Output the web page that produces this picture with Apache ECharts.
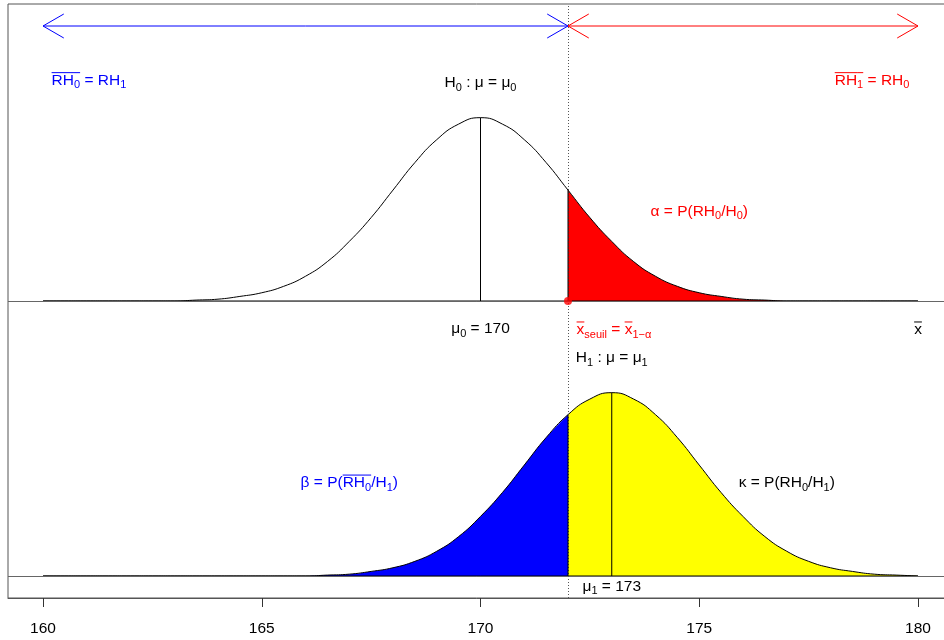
<!DOCTYPE html>
<html><head><meta charset="utf-8">
<script src="https://cdn.jsdelivr.net/npm/echarts@6/dist/echarts.min.js"></script>
<style>html,body{margin:0;padding:0;background:#fff}#c{width:944px;height:640px}</style>
</head><body><div id="c"></div><script>
// ---- data ----
const xs = [160,160.5,161,161.5,162,162.5,163,163.5,164,164.5,165,165.5,166,166.5,167,167.5,168,168.5,169,169.5,170,170.5,171,171.5,172,172.5,173,173.5,174,174.5,175,175.5,176,176.5,177,177.5,178,178.5,179,179.5,180];
// density under H0 (mean 170)
const h0Density = [0,0,0,0,0,0,0,0.001,0.002,0.005,0.009,0.016,0.027,0.043,0.065,0.091,0.121,0.151,0.176,0.193,0.2,0.193,0.176,0.151,0.121,0.091,0.065,0.043,0.027,0.016,0.009,0.005,0.002,0.001,0,0,0,0,0,0,0];
// density under H1 (mean 173)
const h1Density = [0,0,0,0,0,0,0,0,0,0,0,0,0,0.001,0.002,0.005,0.009,0.016,0.027,0.043,0.065,0.091,0.121,0.151,0.176,0.193,0.2,0.193,0.176,0.151,0.121,0.091,0.065,0.043,0.027,0.016,0.009,0.005,0.002,0.001,0];
const tickValues = [160,165,170,175,180];
const means = [170,173];
const thresholds = [172];
const arrowLevels = [0.6];

// ---- layout / style ----
const upperOffset = 0.3;
const BLUE = '#0000ff', RED = '#ff0000', YELLOW = '#ffff00', BLACK = '#000000';
const FONT_FAMILY = "'Liberation Sans', Arial, Helvetica, sans-serif";
const MAIN_FONT = '15.5px ' + FONT_FAMILY;
const SUB_FONT = '11px ' + FONT_FAMILY;
const SUB_SHIFT = 5;
const OVER_H = 7.6;
const TEXT_DY = 2;

const annotations = [
  {x:161.05, y:0.543, color:BLUE, runs:[['RH','n',1],['0','s',1],[' = RH','n'],['1','s']]},
  {x:170, y:0.54, color:BLACK, runs:[['H','n'],['0','s'],[' : \u03bc = \u03bc','n'],['0','s']]},
  {x:178.95, y:0.543, color:RED, runs:[['RH','n',1],['1','s',1],[' = RH','n'],['0','s']]},
  {x:175, y:0.4, color:RED, runs:[['\u03b1 = P(RH','n'],['0','s'],['/H','n'],['0','s'],[')','n']]},
  {x:170, y:0.272, color:BLACK, runs:[['\u03bc','n'],['0','s'],[' = 170','n']]},
  {x:173.05, y:0.271, color:RED, runs:[['x','n',1],['seuil','s'],[' = ','n'],['x','n',1],['1\u2212\u03b1','s']]},
  {x:180, y:0.271, color:BLACK, runs:[['x','n',1]]},
  {x:173, y:0.24, color:BLACK, runs:[['H','n'],['1','s'],[' : \u03bc = \u03bc','n'],['1','s']]},
  {x:167, y:0.104, color:BLUE, runs:[['\u03b2 = P(','n'],['RH','n',1],['0','s',1],['/H','n'],['1','s'],[')','n']]},
  {x:177, y:0.104, color:BLACK, runs:[['\u03ba = P(RH','n'],['0','s'],['/H','n'],['1','s'],[')','n']]},
  {x:173, y:-0.009, color:BLACK, runs:[['\u03bc','n'],['1','s'],[' = 173','n']]}
];

function pairs(from, to, arr, offset) {
  const out = [];
  xs.forEach((x, i) => { if (x >= from && x <= to) out.push([x, arr[i] + offset]); });
  return out;
}
function valueAt(arr, x) { return arr[xs.indexOf(x)]; }

const measureCtx = document.createElement('canvas').getContext('2d');
function measure(text, font) { measureCtx.font = font; return measureCtx.measureText(text).width; }

const xMin = xs[0], xMax = xs[xs.length - 1];
const thr = thresholds[0];

const segments = [
  [means[0], upperOffset, upperOffset + valueAt(h0Density, means[0])],
  [thr, upperOffset, upperOffset + valueAt(h0Density, thr)],
  [means[1], 0, valueAt(h1Density, means[1])],
  [thr, 0, valueAt(h1Density, thr)]
];
const arrows = [[xMin, thr, arrowLevels[0], 0], [thr, xMax, arrowLevels[0], 1]];
const arrowColors = [BLUE, RED];

const lineBase = {type:'line', symbol:'none', smooth:0.5, silent:true, animation:false};

const option = {
  animation: false,
  backgroundColor: '#ffffff',
  grid: {left: 8, top: 4, width: 945, height: 594, show: true, borderColor: '#555', borderWidth: 1,
         containLabel: false, outerBoundsMode: 'none'},
  xAxis: {
    type: 'value', min: 159.2, max: 180.8,
    axisLine: {show: true, onZero: false, lineStyle: {color: '#555', width: 1}},
    axisTick: {show: true, inside: false, length: 9, customValues: tickValues, lineStyle: {color: '#333'}},
    axisLabel: {show: true, customValues: tickValues, margin: 23, color: '#000', fontSize: 15.5,
                fontFamily: FONT_FAMILY, formatter: v => String(v)},
    splitLine: {show: false}
  },
  yAxis: {
    type: 'value', min: -0.024, max: 0.624, show: false,
    axisLine: {show: false}, axisTick: {show: false}, axisLabel: {show: false}, splitLine: {show: false}
  },
  series: [
    Object.assign({}, lineBase, {name:'alpha', z:2, data: pairs(thr, xMax, h0Density, upperOffset),
      lineStyle:{width:0, opacity:0}, areaStyle:{color:RED, opacity:1, origin: upperOffset}}),
    Object.assign({}, lineBase, {name:'beta', z:2, data: pairs(xMin, thr, h1Density, 0),
      lineStyle:{width:0, opacity:0}, areaStyle:{color:BLUE, opacity:1, origin: 0}}),
    Object.assign({}, lineBase, {name:'kappa', z:2, data: pairs(thr, xMax, h1Density, 0),
      lineStyle:{width:0, opacity:0}, areaStyle:{color:YELLOW, opacity:1, origin: 0}}),
    {type:'line', symbol:'none', silent:true, z:3, data: [[xMin, upperOffset],[xMax, upperOffset]],
      lineStyle:{color:BLACK, width:1},
      markLine: {silent:true, symbol:'none', label:{show:false}, animation:false,
        data: [
          {yAxis: 0, lineStyle:{color:'#666', width:1, type:'solid'}},
          {yAxis: upperOffset, lineStyle:{color:'#666', width:1, type:'solid'}},
          {xAxis: thr, lineStyle:{color:'#555', width:1, type:[1,2]}}
        ]}},
    {type:'line', symbol:'none', silent:true, z:3, data: [[xMin, 0],[xMax, 0]], lineStyle:{color:BLACK, width:1}},
    Object.assign({}, lineBase, {name:'H0', z:4, data: pairs(xMin, xMax, h0Density, upperOffset),
      lineStyle:{color:BLACK, width:1}}),
    Object.assign({}, lineBase, {name:'H1', z:4, data: pairs(xMin, xMax, h1Density, 0),
      lineStyle:{color:BLACK, width:1}}),
    {type:'custom', z:5, silent:true, data: segments,
      renderItem: (params, api) => {
        const p1 = api.coord([api.value(0), api.value(1)]);
        const p2 = api.coord([api.value(0), api.value(2)]);
        return {type:'line', shape:{x1:p1[0], y1:p1[1], x2:p2[0], y2:p2[1]}, style:{stroke:BLACK, lineWidth:1}};
      }},
    {type:'custom', z:5, silent:true, data: arrows,
      renderItem: (params, api) => {
        const p1 = api.coord([api.value(0), api.value(2)]);
        const p2 = api.coord([api.value(1), api.value(2)]);
        const c = arrowColors[api.value(3)];
        const L = 24, ang = Math.PI / 6;
        const dx = L * Math.cos(ang), dy = L * Math.sin(ang);
        const st = {stroke:c, lineWidth:1};
        const mk = (a, b, cc, d) => ({type:'line', shape:{x1:a, y1:b, x2:cc, y2:d}, style:st});
        return {type:'group', children:[
          mk(p1[0], p1[1], p2[0], p2[1]),
          mk(p1[0], p1[1], p1[0] + dx, p1[1] - dy),
          mk(p1[0], p1[1], p1[0] + dx, p1[1] + dy),
          mk(p2[0], p2[1], p2[0] - dx, p2[1] - dy),
          mk(p2[0], p2[1], p2[0] - dx, p2[1] + dy)
        ]};
      }},
    {type:'custom', z:6, silent:true, data: annotations.map((a, i) => [a.x, a.y, i]),
      renderItem: (params, api) => {
        const a = annotations[api.value(2)];
        const p0 = api.coord([api.value(0), api.value(1)]);
        const p = [p0[0], p0[1] + TEXT_DY];
        const widths = a.runs.map(r => measure(r[0], r[1] === 's' ? SUB_FONT : MAIN_FONT));
        const total = widths.reduce((s, w) => s + w, 0);
        let x = p[0] - total / 2;
        const children = [];
        a.runs.forEach((r, i) => {
          const sub = r[1] === 's';
          children.push({type:'text', x: x, y: p[1] + (sub ? SUB_SHIFT : 0),
            style:{text:r[0], font: sub ? SUB_FONT : MAIN_FONT, fill:a.color,
                   align:'left', verticalAlign:'middle', textAlign:'left', textVerticalAlign:'middle'}});
          if (r[2]) children.push({type:'line',
            shape:{x1:x, y1:p[1] - OVER_H, x2:x + widths[i], y2:p[1] - OVER_H},
            style:{stroke:a.color, lineWidth:1}});
          x += widths[i];
        });
        return {type:'group', children};
      }},
    {type:'scatter', z:7, silent:true, symbol:'circle', symbolSize:8, data:[[thr, upperOffset]],
      itemStyle:{color:RED}}
  ]
};
const chart = echarts.init(document.getElementById('c'), null, {renderer:'canvas'});
chart.setOption(option);
</script></body></html>
